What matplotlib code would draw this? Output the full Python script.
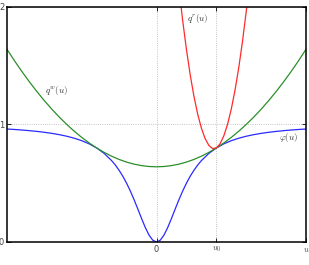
import numpy as np
import matplotlib
matplotlib.use('Agg')
import matplotlib.pyplot as plt

plt.rcParams['mathtext.fontset'] = 'cm'

# sample positions (u) and curve values
u_b = np.concatenate([np.linspace(-5, -1.5, 15), np.linspace(-1.375, 1.375, 23),
                      np.linspace(1.5, 5, 15)])
phi = [0.9615, 0.9576, 0.9529, 0.9475, 0.9412, 0.9336, 0.9245, 0.9135, 0.9,
       0.8832, 0.8621, 0.8351, 0.8, 0.7538, 0.6923,
       0.6541, 0.6098, 0.5586, 0.5, 0.4336, 0.36, 0.2809, 0.2, 0.1233,
       0.0588, 0.0154, 0.0, 0.0154, 0.0588, 0.1233, 0.2, 0.2809, 0.36,
       0.4336, 0.5, 0.5586, 0.6098, 0.6541,
       0.6923, 0.7538, 0.8, 0.8351, 0.8621, 0.8832, 0.9, 0.9135, 0.9245,
       0.9336, 0.9412, 0.9475, 0.9529, 0.9576, 0.9615]

u = np.linspace(-5, 5, 41)
qw = [1.64, 1.5425, 1.45, 1.3625, 1.28, 1.2025, 1.13, 1.0625, 1.0, 0.9425,
      0.89, 0.8425, 0.8, 0.7625, 0.73, 0.7025, 0.68, 0.6625, 0.65, 0.6425,
      0.64,
      0.6425, 0.65, 0.6625, 0.68, 0.7025, 0.73, 0.7625, 0.8, 0.8425, 0.89,
      0.9425, 1.0, 1.0625, 1.13, 1.2025, 1.28, 1.3625, 1.45, 1.5425, 1.64]

u_r = np.linspace(0.75, 3.25, 21)
qr = [2.1625, 1.8856, 1.64, 1.4256, 1.2425, 1.0906, 0.97, 0.8806, 0.8225,
      0.7956, 0.8, 0.8356, 0.9025, 1.0006, 1.13, 1.2906, 1.4825, 1.7056,
      1.96, 2.2456, 2.5625]

xticks = [0, 2, 5]
xlabels = ['0', '$u_0$', '$u$']
yticks = [0, 1, 2]

fig = plt.figure(figsize=(3.09, 2.65), dpi=100)
ax = fig.add_axes([0.0227, 0.0868, 0.9676, 0.8868])

ax.plot(u_b, phi, color='#2a2aff', lw=0.9)
ax.plot(u, qw, color='#2a8f2a', lw=0.9)
ax.plot(u_r, qr, color='#ff2a2a', lw=0.9)

ax.text(1.37, 1.9, '$q^r(u)$', fontsize=6.5, ha='center', va='center', color='#333333')
ax.text(-3.33, 1.29, '$q^w(u)$', fontsize=6.5, ha='center', va='center', color='#333333')
ax.text(4.43, 0.89, r'$\varphi(u)$', fontsize=6.5, ha='center', va='center', color='#333333')

ax.set_xlim(-5, 5)
ax.set_ylim(0, 2)
ax.set_xticks(xticks)
ax.set_xticklabels(xlabels)
ax.set_yticks(yticks)
ax.grid(True, color='#b0b0b0', linestyle=':', linewidth=0.6)
ax.tick_params(direction='in', top=True, right=True, length=3, width=0.6,
               labelsize=6, pad=2, labelcolor='#444444')
for s in ax.spines.values():
    s.set_linewidth(1.1)

fig.savefig('out.png', dpi=100)
